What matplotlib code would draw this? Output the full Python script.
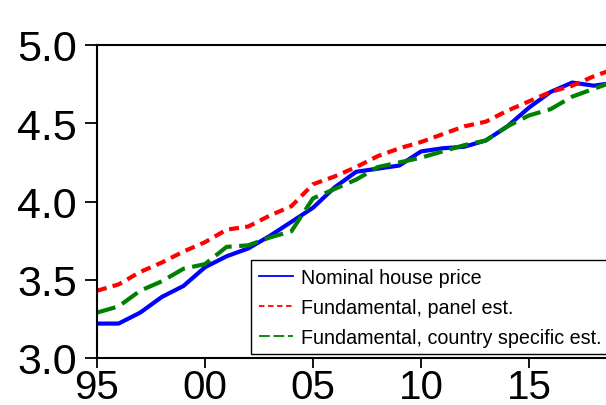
import matplotlib
matplotlib.use("Agg")
import matplotlib.pyplot as plt
from matplotlib.lines import Line2D

plt.rcParams['font.family'] = ['Liberation Sans', 'DejaVu Sans']

years = list(range(1995, 2020))

# nominal house price (log)
nominal = [3.22, 3.22, 3.29, 3.39, 3.46, 3.58, 3.65, 3.70, 3.78, 3.87,
           3.96, 4.09, 4.19, 4.21, 4.23, 4.32, 4.34, 4.35, 4.39, 4.48,
           4.60, 4.70, 4.76, 4.74, 4.76]
# fundamental, panel est.
panel = [3.43, 3.47, 3.55, 3.61, 3.68, 3.74, 3.82, 3.84, 3.91, 3.97,
         4.11, 4.16, 4.22, 4.29, 4.34, 4.38, 4.43, 4.48, 4.51, 4.58,
         4.64, 4.70, 4.74, 4.80, 4.85]
# fundamental, country specific est.
country = [3.29, 3.33, 3.43, 3.49, 3.57, 3.60, 3.71, 3.72, 3.77, 3.81,
           4.02, 4.08, 4.14, 4.22, 4.25, 4.28, 4.32, 4.36, 4.39, 4.48,
           4.55, 4.59, 4.67, 4.72, 4.77]

xticks = [1995, 2000, 2005, 2010, 2015]
xticklabels = ['95', '00', '05', '10', '15']
yticks = [3.0, 3.5, 4.0, 4.5, 5.0]

fig = plt.figure(figsize=(6.06, 4.06), dpi=100)
ax = fig.add_axes([97/606, 47/406, 509/606, 313/406])

ax.plot(years, nominal, color='#0000ff', lw=3, solid_joinstyle='round')
ax.plot(years, panel, color='#ff0000', lw=3, dashes=(2.4, 1.5))
ax.plot(years, country, color='#008000', lw=3, dashes=(4.6, 1.8))

ax.set_xlim(1995, 1995 + 509/21.6)
ax.set_ylim(3.0, 5.0)
ax.set_xticks(xticks)
ax.set_xticklabels(xticklabels)
ax.set_yticks(yticks)
ax.set_yticklabels(['%.1f' % v for v in yticks])
ax.tick_params(axis='both', direction='out', width=1.3, color='black')
ax.tick_params(axis='y', length=8.5, pad=6, labelsize=31)
ax.tick_params(axis='x', length=7, pad=0, labelsize=29)
ax.spines['right'].set_visible(False)
for s in ['left', 'top', 'bottom']:
    ax.spines[s].set_linewidth(1.5)

handles = [Line2D([], [], color='#0000ff', lw=1.3),
           Line2D([], [], color='#ff0000', lw=1.3, dashes=(3, 2)),
           Line2D([], [], color='#008000', lw=1.3, dashes=(6, 2, 6, 2))]
labels = ['Nominal house price', 'Fundamental, panel est.',
          'Fundamental, country specific est.']
leg = ax.legend(handles, labels, loc='upper left',
                bbox_to_anchor=(251/606, 1 - 261/406), bbox_transform=fig.transFigure,
                fontsize=14.2, frameon=True, fancybox=False, framealpha=1,
                edgecolor='black', handlelength=1.75, handletextpad=0.4,
                labelspacing=0.55, borderpad=0.4, borderaxespad=0)
leg.get_frame().set_linewidth(1.0)

fig.savefig('out.png', dpi=100)
